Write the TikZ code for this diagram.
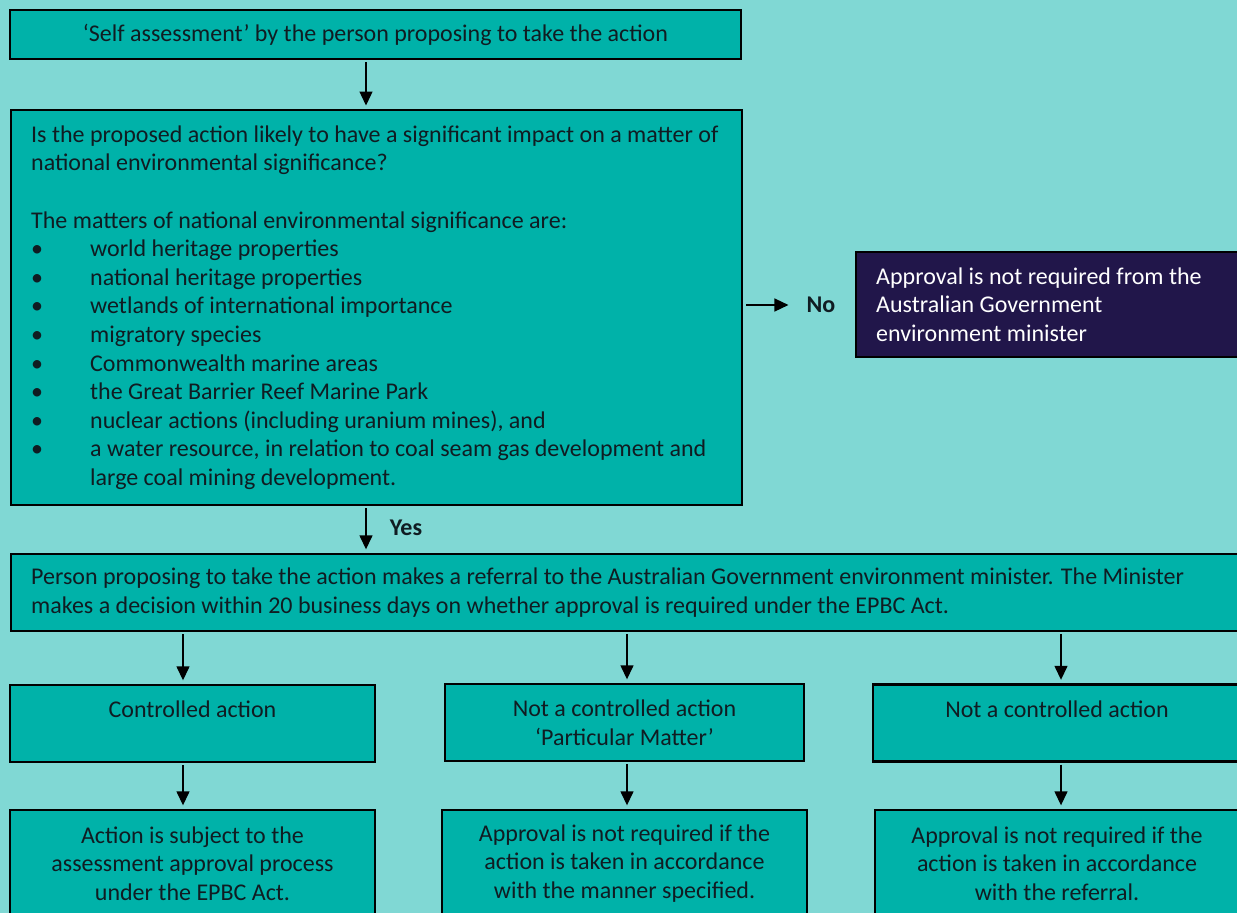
\documentclass[tikz,border=0pt]{standalone}
\usepackage{fontspec}
\setmainfont{Carlito}
\usetikzlibrary{arrows.meta}
\usetikzlibrary{calc}
\definecolor{bg1}{RGB}{128, 216, 212}
\definecolor{teal1}{RGB}{0, 178, 169}
\definecolor{navy1}{RGB}{33, 22, 74}
\definecolor{ink1}{RGB}{16, 28, 34}
\newcommand\natsp{\spaceskip=0pt\xspaceskip=0pt\relax}
\newcommand\bul{\makebox[59pt][l]{•}}

\begin{document}
\begin{tikzpicture}[x=1pt, y=-1pt, line width=2.4pt,
  box/.style={draw=black, fill=teal1, text=ink1, inner sep=0pt, font=\fontsize{24}{28.6}\selectfont},
  lbl/.style={text=ink1, inner sep=0pt, font=\fontsize{24}{28.6}\selectfont\bfseries},
  arr/.style={line width=1.4pt, -{Triangle[width=13pt,length=14pt]}, shorten <=2pt, shorten >=3.5pt}]
  \useasboundingbox (0,0) rectangle (1237,913);
  \clip (0,0) rectangle (1237,913);
  \fill[bg1] (0,0) rectangle (1237,913);

  \node[box, minimum width=731, minimum height=49] (n1) at (375.5,34.5) {‘Self assessment’ by the person proposing to take the action};
  \node[box, anchor=north west, minimum width=731, minimum height=395, text width=691, align=left] (n2) at (10,109)
  {\natsp Is the proposed action likely to have a significant impact on a matter of\\
   national environmental significance?\\[28.6pt]
   The matters of national environmental significance are:\\
   \bul world heritage properties\\
   \bul national heritage properties\\
   \bul wetlands of international importance\\
   \bul migratory species\\
   \bul Commonwealth marine areas\\
   \bul the Great Barrier Reef Marine Park\\
   \bul nuclear actions (including uranium mines), and\\
   \bul a water resource, in relation to coal seam gas development and\\
   \hspace*{59pt}large coal mining development.};
  \node[box, fill=navy1, text=white, anchor=west, minimum width=400, minimum height=105, text width=360, align=left] (n3) at (855,304.5)
  {\natsp Approval is not required from the\\Australian Government\\environment minister};
  \node[lbl] (no) at (821,305) {No};
  \node[lbl] (yes) at (406,528) {Yes};

  \node[box, anchor=west, minimum width=1245, minimum height=77, text width=1205, align=left] (n4) at (10,592.5)
  {\natsp Person proposing to take the action makes a referral to the Australian Government environment minister. The Minister\\
   makes a decision within 20 business days on whether approval is required under the EPBC Act.};

  \node[box, minimum width=365, minimum height=77, align=center] (n5) at (192.5,723.5) {Controlled action\\\mbox{}};
  \node[box, minimum width=359, minimum height=77, align=center] (n6) at (624.5,722.5) {Not a controlled action\\‘Particular Matter’};
  \node[box, minimum width=368, minimum height=77, align=center] (n7) at (1057,723) {Not a controlled action\\\mbox{}};

  \node[box, minimum width=365, minimum height=107, align=center] (n8) at (192.5,863.5)
  {Action is subject to the\\assessment approval process\\under the EPBC Act.};
  \node[box, minimum width=365, minimum height=107, align=center] (n9) at (624.5,863.5)
  {Approval is not required if the\\action is taken in accordance\\with the manner specified.};
  \node[box, minimum width=364, minimum height=107, align=center] (n10) at (1057,863.5)
  {Approval is not required if the\\action is taken in accordance\\with the referral.};

  \coordinate (c0) at (366,0);
  \coordinate (c1) at (183,0);
  \coordinate (c2) at (627,0);
  \coordinate (c3) at (1061,0);

  \foreach \from/\to/\col in {n1/n2/c0, n2/n4/c0, n4/n5/c1, n4/n6/c2, n4/n7/c3, n5/n8/c1, n6/n9/c2, n7/n10/c3}
    \draw[arr] (\from.south -| \col) -- (\to.north -| \col);
  \draw[arr, shorten <=3pt, shorten >=17pt] (n2.east |- no) -- (no.west);
\end{tikzpicture}
\end{document}
